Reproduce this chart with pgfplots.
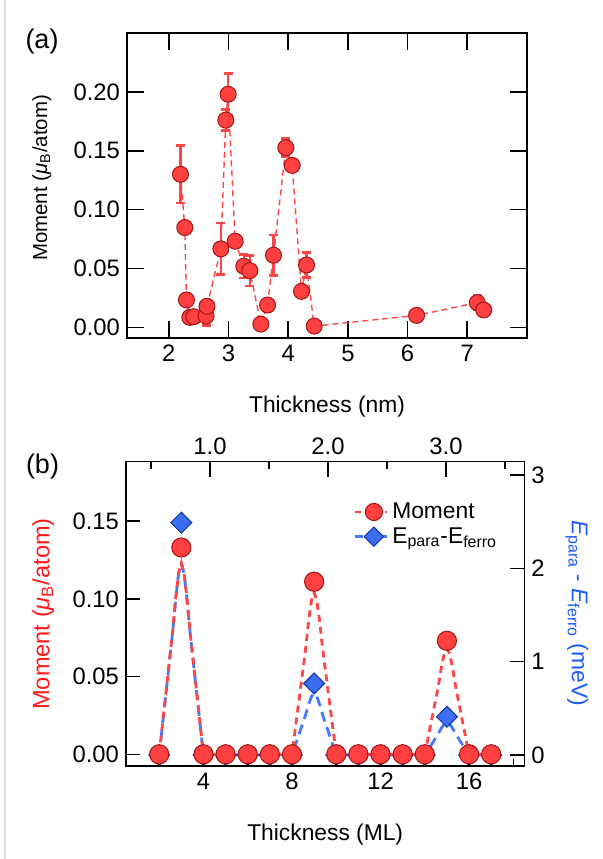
\documentclass[border=0pt]{standalone}
\usepackage{pgfplots}
\pgfplotsset{compat=1.18}
\usepackage{pgfplotstable}
\usepackage{fontspec}
\setmainfont{Liberation Sans}
\definecolor{rfill}{RGB}{255,64,64}
\definecolor{redge}{RGB}{165,20,20}
\definecolor{rline}{RGB}{255,70,70}
\definecolor{bfill}{RGB}{60,110,240}
\definecolor{bedge}{RGB}{20,50,170}
\definecolor{bline}{RGB}{70,120,255}
\definecolor{btext}{RGB}{30,90,255}
\definecolor{rtext}{RGB}{255,25,25}
\newcommand{\fsz}{\fontsize{11.4}{13.6}\selectfont}
\newcommand{\tsz}{\fontsize{11.9}{14}\selectfont}

\pgfplotstableread{
x y e
2.196 0.1300 0.0245
2.268 0.0848 0.0
2.296 0.0233 0.004
2.352 0.0085 0.004
2.419 0.0091 0.004
2.625 0.0096 0.008
2.640 0.0179 0.004
2.872 0.0667 0.022
2.955 0.1760 0.009
2.994 0.1980 0.0175
3.112 0.0732 0.005
3.257 0.0519 0.010
3.358 0.0482 0.013
3.542 0.0028 0.0
3.654 0.0190 0.003
3.754 0.0613 0.017
3.961 0.1526 0.0077
4.067 0.1376 0.003
4.223 0.0306 0.003
4.307 0.0530 0.0106
4.436 0.0011 0.0
6.151 0.0102 0.003
7.168 0.0210 0.006
7.275 0.0148 0.003
}\dataA

\pgfplotstableread{
x y
2 0
3 0.133
4 0
5 0
6 0
7 0
8 0
9 0.111
10 0
11 0
12 0
13 0
14 0
15 0.073
16 0
17 0
}\redpts

\pgfplotstableread{
x y
2 0
3 2.49
4 0
5 0
6 0
7 0
8 0
9 0.766
10 0
11 0
12 0
13 0
14 0
15 0.41
16 0
17 0
}\bluepts

\pgfplotstableread{
x y
2 0
2.6 0.0780
2.75 0.1010
2.88 0.1170
3 0.123
3.12 0.1170
3.25 0.1010
3.4 0.0780
4 0
8 0
8.6 0.0660
8.75 0.0855
8.88 0.0990
9 0.104
9.12 0.0990
9.25 0.0855
9.4 0.0660
10 0
14 0
14.6 0.0430
14.75 0.0560
14.88 0.0648
15 0.068
15.12 0.0648
15.25 0.0560
15.4 0.0430
16 0
17 0
}\redline

\pgfplotstableread{
x y
2 0
2.6 1.300
2.75 1.683
2.88 1.950
3 2.05
3.12 1.950
3.25 1.683
3.4 1.300
4 0
8 0
8.6 0.418
8.75 0.542
8.88 0.627
9 0.66
9.12 0.627
9.25 0.542
9.4 0.418
10 0
14 0
14.6 0.222
14.75 0.288
14.88 0.333
15 0.35
15.12 0.333
15.25 0.288
15.4 0.222
16 0
17 0
}\blueline

\pgfplotsset{
  myax/.style={
    scale only axis,
    axis line style={line width=0.8pt},
    every tick/.style={black, line width=0.8pt},
    tick align=inside,
    /pgf/number format/assume math mode=true,
    tick label style={font=\tsz},
    label style={font=\fsz},
  }
}

\begin{document}
\begin{tikzpicture}[font=\fsz]
\path[use as bounding box] (0,0) rectangle (301.5pt,429.5pt);
\draw[black!12, line width=0.6pt] (2.5pt,0) -- (2.5pt,429.5pt);

% ---------- panel (a) ----------
\begin{axis}[myax,
  at={(63.5pt,260.5pt)}, anchor=south west,
  width=200pt, height=152.5pt,
  xmin=1.3, xmax=8.0, ymin=-0.009, ymax=0.25,
  xtick={2,3,4,5,6,7},
  ytick={0,0.05,0.1,0.15,0.2},
  yticklabel style={/pgf/number format/.cd, fixed, fixed zerofill, precision=2},
  major tick length=8.3pt,
  xlabel={Thickness (nm)},
  ylabel={Moment ({\itshape μ}\textsubscript{B}/atom)},
  xlabel style={at={(axis description cs:0.5,-0.226)}, anchor=center},
  ylabel style={at={(axis description cs:-0.213,0.525)}, anchor=center, font=\fontsize{10.2}{12}\selectfont},
]
\addplot[rline, dash pattern=on 3pt off 2pt, line width=0.7pt,
  mark=*, mark size=4pt,
  mark options={solid, fill=rfill, draw=redge, line width=0.5pt},
  error bars/.cd, y dir=both, y explicit,
  error bar style={rline, solid, line width=1.3pt},
  error mark options={rotate=90, rline, solid, mark size=2.2pt, line width=1.3pt}]
  table[x=x, y=y, y error=e] {\dataA};
\end{axis}

% ---------- panel (b): right axis (blue) ----------
\begin{axis}[myax,
  at={(63pt,46.65pt)}, anchor=south west,
  width=199.2pt, height=152pt,
  xmin=0.5, xmax=18.5, ymin=-0.1146, ymax=3.143,
  axis y line*=right, axis x line=none,
  ytick={0,1,2,3},
  major tick length=7pt,
  ylabel={{\itshape E}\textsubscript{para} - {\itshape E}\textsubscript{ferro} (meV)},
  ylabel style={at={(axis description cs:1.1316,0.502)}, anchor=center, rotate=180, color=btext},
]
\addplot[bline, dash pattern=on 5pt off 3pt, line width=1.4pt] table[x=x,y=y] {\blueline};
\addplot[only marks, mark=square*, mark size=3.7pt,
  mark options={rotate=45, fill=bfill, draw=bedge, line width=0.5pt}] table[x=x,y=y] {\bluepts};
\end{axis}

% ---------- panel (b): left axis (red) ----------
\begin{axis}[myax,
  at={(63pt,46.65pt)}, anchor=south west,
  width=199.2pt, height=152pt,
  xmin=0.5, xmax=18.5, ymin=-0.00733, ymax=0.1882,
  xtick={4,8,12,16}, minor xtick={2,6,10,14,18},
  ytick={0,0.05,0.1,0.15},
  xtick pos=bottom, ytick pos=left,
  yticklabel style={/pgf/number format/.cd, fixed, fixed zerofill, precision=2},
  major tick length=7pt, minor tick length=3.5pt,
  xlabel={Thickness (ML)},
  ylabel={Moment ({\itshape μ}\textsubscript{B}/atom)},
  xlabel style={at={(axis description cs:0.5,-0.228)}, anchor=center},
  ylabel style={at={(axis description cs:-0.2076,0.499)}, anchor=center, color=rtext, font=\fontsize{11.8}{14}\selectfont},
  legend style={draw=none, fill=none, at={(axis description cs:0.555,0.794)}, anchor=west,
    font=\fsz, row sep=-1pt},
  legend cell align=left,
  legend image code/.code={\draw[mark repeat=2, mark phase=2, #1] plot coordinates {(0pt,0pt) (9.5pt,0pt) (16pt,0pt)};},
]
\addplot[rline, dash pattern=on 3.5pt off 2.5pt, line width=1.4pt, forget plot] table[x=x,y=y] {\redline};
\addplot[only marks, mark=*, mark size=4.8pt, forget plot,
  mark options={fill=rfill, draw=redge, line width=0.5pt}] table[x=x,y=y] {\redpts};
\addlegendimage{rline, dash pattern=on 3pt off 2pt, line width=1.4pt, mark=*, mark size=4.3pt, mark options={solid, fill=rfill, draw=redge, line width=0.5pt}}
\addlegendentry{Moment}
\addlegendimage{bline, dash pattern=on 4pt off 2pt, line width=1.4pt, mark=square*, mark size=3.4pt, mark options={solid, rotate=45, fill=bfill, draw=bedge, line width=0.5pt}}
\addlegendentry{E\textsubscript{para}-E\textsubscript{ferro}}
\end{axis}

% ---------- panel (b): top axis (nm) ----------
\begin{axis}[myax,
  at={(63pt,46.65pt)}, anchor=south west,
  width=199.2pt, height=152pt,
  xmin=0.288, xmax=3.664, ymin=0, ymax=1,
  axis x line*=top, hide y axis,
  xtick={1,2,3}, minor xtick={0.5,1.5,2.5,3.5},
  xticklabel style={/pgf/number format/.cd, fixed, fixed zerofill, precision=1},
  major tick length=7.5pt, minor tick length=3.5pt,
]
\addplot[draw=none] coordinates {(1,0.5)};
\end{axis}

\node[font=\fontsize{13.5}{16}\selectfont] at (21pt,408.5pt) {(a)};
\node[font=\fontsize{13.5}{16}\selectfont] at (21.25pt,196pt) {(b)};
\end{tikzpicture}
\end{document}
